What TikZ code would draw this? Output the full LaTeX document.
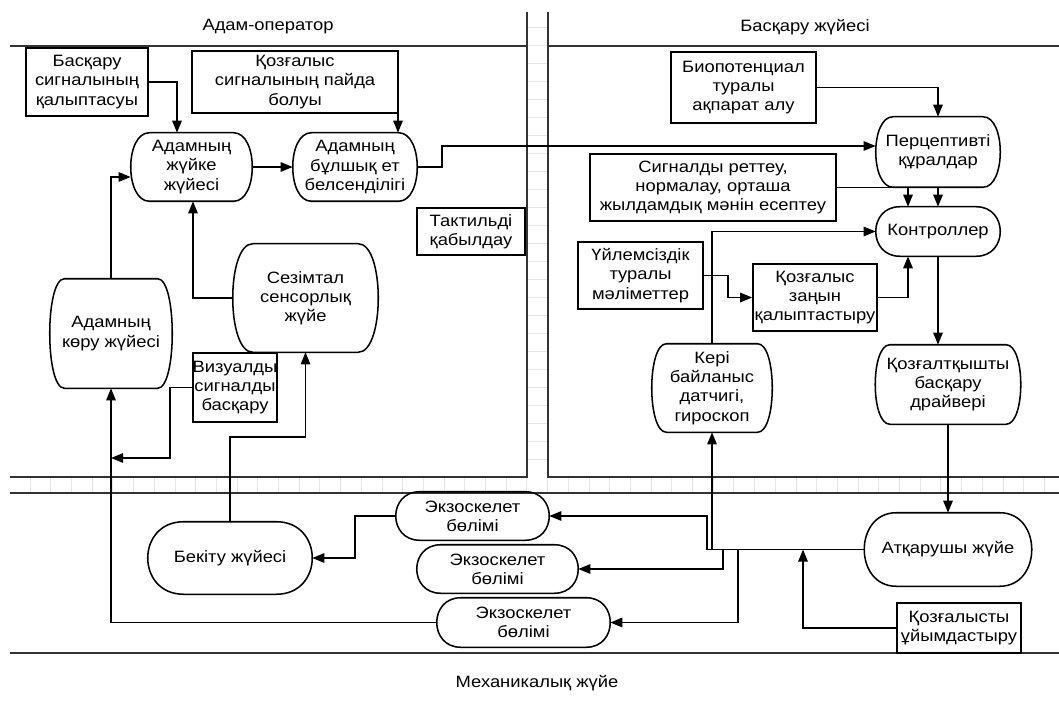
\documentclass[tikz,border=0pt]{standalone}
\usepackage{fontspec}
\setmainfont[FakeStretch=1.12]{Liberation Sans}
\usetikzlibrary{arrows.meta}
\tikzset{
  base/.style={font=\fontsize{12.3}{14.4}\selectfont, align=center, inner sep=0pt},
  box/.style 2 args={base, draw, line width=1.2pt, minimum width=#1*0.75pt, minimum height=#2*0.75pt},
  term/.style 2 args={base, minimum width=#1*0.75pt, minimum height=#2*0.75pt},
  shp/.style={line width=1.15pt},
  arr/.style={line width=1.25pt, -{Triangle[length=9pt,width=7pt]}},
  ln/.style={line width=1.25pt},
  frame/.style={line width=1.4pt, black!80},
  tickln/.style={line width=0.6pt, black!10},
}
\newcommand\barrelpath[2]{\draw[shp] ([xshift=#2]#1.north west) -- ([xshift=-#2]#1.north east) .. controls ([xshift=#2/3]#1.north east) and ([xshift=#2/3]#1.south east) .. ([xshift=-#2]#1.south east) -- ([xshift=#2]#1.south west) .. controls ([xshift=-#2/3]#1.south west) and ([xshift=-#2/3]#1.north west) .. cycle;}
\begin{document}
\begin{tikzpicture}[x=0.75pt,y=-0.75pt]
\useasboundingbox (0,0) rectangle (1059,702);
% grid ticks
\foreach \x in {30,50.7,...,1059} \draw[tickln] (\x,477) -- (\x,493);
\foreach \y in {27,45,...,470} \draw[tickln] (527,\y) -- (548,\y);
% frames
\draw[frame] (10,46) -- (527,46);
\draw[frame] (548,46) -- (1059,46);
\draw[frame] (527,12) -- (527,477) -- (10,477);
\draw[frame] (548,12) -- (548,477) -- (1059,477);
\draw[frame] (10,493) -- (1059,493);
\draw[frame] (10,653) -- (1059,653);
% titles
\node[base] (t1) at (268,27) {Адам-оператор};
\node[base] (t2) at (805,27) {Басқару жүйесі};
\node[base] (t3) at (537,683) {Механикалық жүйе};
% nodes
\node[box={122}{68}] (r1) at (87,82) {Басқару\\сигналының\\қалыптасуы};
\node[box={206}{62}] (r2) at (295,82) {Қозғалыс\\сигналының пайда\\болуы};
\node[term={121}{68}] (n3) at (191.5,167) {Адамның\\жүйке\\жүйесі};
\node[term={124}{68}] (n4) at (355,167) {Адамның\\бұлшық ет\\белсенділігі};
\node[box={108}{47}] (tak) at (471,231.5) {Тактильді\\қабылдау};
\node[term={122}{109}] (n6) at (111,333.5) {Адамның\\көру жүйесі};
\node[term={145}{108}] (n21) at (305.5,298) {Сезімтал\\сенсорлық\\жүйе};
\node[box={84}{69}] (r22) at (235,387.5) {Визуалды\\сигналды\\басқару};
\node[box={145}{71}] (r7) at (743.5,87.5) {Биопотенциал\\туралы\\ақпарат алу};
\node[term={124}{70}] (n8) at (938,152) {Перцептивті\\құралдар};
\node[box={246}{67}] (r9) at (713,187.5) {Сигналды реттеу,\\нормалау, орташа\\жылдамдық мәнін есептеу};
\node[term={124}{49}] (n10) at (938,231.5) {Контроллер};
\node[box={125}{67}] (r11) at (640.5,275.5) {Үйлемсіздік\\туралы\\мәліметтер};
\node[box={124}{67}] (r12) at (815,297.5) {Қозғалыс\\заңын\\қалыптастыру};
\node[term={120}{88}] (n13) at (712,388) {Кері\\байланыс\\датчигі,\\гироскоп};
\node[term={145}{79}] (n14) at (948,384.5) {Қозғалтқышты\\басқару\\драйвері};
\node[term={167}{73}] (n15) at (948,549.5) {Атқарушы жүйе};
\node[box={124}{50}] (r16) at (959,628) {Қозғалысты\\ұйымдастыру};
\node[term={153}{48}] (e1) at (472.5,516) {Экзоскелет\\бөлімі};
\node[term={161}{48}] (e2) at (497.5,569) {Экзоскелет\\бөлімі};
\node[term={173}{49}] (e3) at (523.5,622.5) {Экзоскелет\\бөлімі};
\node[term={164}{72}] (n20) at (230,558) {Бекіту жүйесі};
% shapes
\barrelpath{n3}{14pt}
\barrelpath{n4}{14pt}
\barrelpath{n6}{11pt}
\barrelpath{n21}{15pt}
\barrelpath{n8}{13pt}
\barrelpath{n10}{18pt}
\barrelpath{n13}{11pt}
\barrelpath{n14}{11pt}
\barrelpath{n15}{24pt}
\barrelpath{e1}{18pt}
\barrelpath{e2}{18pt}
\barrelpath{e3}{18pt}
\barrelpath{n20}{27pt}
% coordinates
\coordinate (b1) at (305.5,437);
\coordinate (c1) at (111,458);
% connectors
\draw[arr] (r1.east) -| (177,0 |- n3.north);
\draw[arr] (398,0 |- r2.east) -- (398,0 |- n4.north);
\draw[arr] (n3.east) -- (n4.west);
\draw[arr] (n4.east) -- (442,0 |- n4.east) |- ([yshift=4.5pt]n8.west);
\draw[arr] (r7.east) -| (n8.north);
\draw[arr] (r9.east) -| (908,0 |- n10.north);
\draw[arr] (n8.south) -- (n10.north);
\draw[arr] (n13.north) |- (n10.west);
\draw[arr] (r11.east) -| (728,0 |- r12.west) -- (r12.west);
\draw[arr] (r12.east) -| (908,0 |- n10.south);
\draw[arr] (n10.south) -- (n10.south |- n14.north);
\draw[arr] (n14.south) -- (n15.north);
\draw[ln] (n15.west) -- (707,0 |- n15.west);
\draw[arr] (707,0 |- n15.west) |- (e1.east);
\draw[arr] (723,0 |- n15.west) |- (e2.east);
\draw[arr] (738,0 |- n15.west) |- (e3.east);
\draw[arr] (712,0 |- n15.west) -- (n13.south);
\draw[arr] (r16.west) -| (803,0 |- n15.west);
\draw[arr] (e1.west) -| (355,0 |- n20.east) -- (n20.east);
\draw[arr] (n20.north) |- (b1) -- (n21.south);
\draw[arr] (e3.west) -| (n6.south);
\draw[arr] (r22.west) -| (170,0 |- c1) -- (c1);
\draw[arr] (n21.west) -| (193,0 |- n3.south);
\draw[arr] (n6.north) |- ([yshift=-7.5pt]n3.west);
\end{tikzpicture}
\end{document}
